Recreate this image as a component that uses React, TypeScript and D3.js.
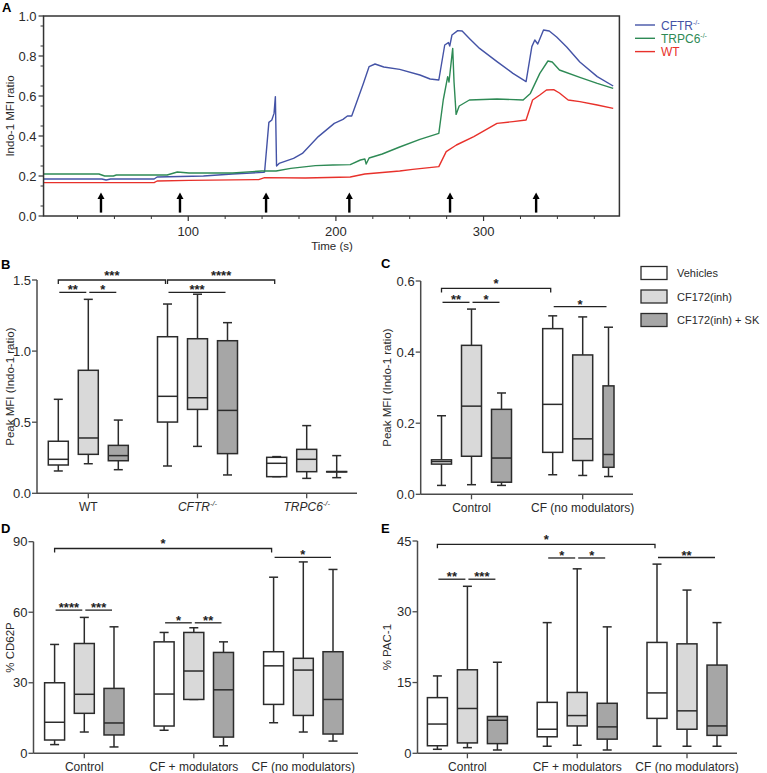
import React from 'react';
import * as d3 from 'd3';

const FONT = '"Liberation Sans", Arial, Helvetica, sans-serif';
const FILLS = ['#ffffff', '#d9d9d9', '#a6a6a6'];
const STROKE = '#2b2b2b';
const AXIS = '#4a4a4a';
const TXT = '#2a2a2a';

// ---------- Panel A data ----------
const cftrSeries: [number, number][] = [[2,.185],[41.5,.185],[44.4,.18],[47.4,.185],[76.9,.185],[78.9,.195],[110.3,.2],[130,.21],[150.7,.218],[151.7,.22],[154.6,.468],[156.6,.48],[158.1,.513],[159,.597],[159.8,.25],[161.5,.263],[171.3,.288],[177.3,.313],[188.1,.397],[198.9,.463],[204.8,.483],[207.8,.5],[210.7,.5],[218.6,.663],[222.5,.747],[226.5,.76],[232.4,.745],[243.2,.733],[256.9,.705],[263.8,.685],[269.7,.68],[273.7,.855],[276.2,.867],[277.1,.85],[278.6,.905],[282.5,.927],[285.5,.925],[290.4,.888],[297.3,.838],[309.1,.772],[319.9,.713],[328.8,.672],[332.7,.847],[334.7,.88],[336.7,.86],[340.6,.93],[344.5,.925],[349.5,.895],[356.3,.845],[365.2,.77],[377,.697],[387.8,.65]];
const trpc6Series: [number, number][] = [[2,.21],[39.5,.21],[43.4,.2],[49.3,.2],[51.3,.205],[85.7,.205],[92.6,.22],[100.5,.215],[130,.215],[149.7,.225],[159.5,.225],[169.4,.238],[186.1,.252],[197.9,.255],[209.7,.257],[216.6,.28],[219.6,.285],[220.5,.26],[222.5,.29],[231.4,.31],[243.2,.345],[256.9,.383],[269.7,.413],[272.7,.58],[275.7,.697],[276.6,.67],[279.1,.838],[280,.67],[281.4,.508],[283.5,.55],[290.4,.58],[309.1,.585],[326.8,.58],[331.7,.613],[338.1,.713],[343.6,.775],[346.5,.77],[351.4,.73],[365.2,.693],[377,.663],[387.8,.638]];
const wtSeries: [number, number][] = [[2,.167],[76.9,.167],[78.9,.175],[100.5,.178],[147.7,.182],[151.7,.192],[179.2,.19],[209.7,.195],[219.6,.21],[243.2,.225],[252,.233],[269.7,.247],[274.7,.322],[281.6,.355],[293.4,.397],[309.1,.463],[319.9,.472],[328.8,.48],[333.2,.58],[338.1,.605],[342.6,.63],[347.5,.632],[351.4,.615],[357.3,.58],[365.2,.572],[377,.555],[387.8,.538]];
const aSeriesNames = ['CFTR', 'TRPC6', 'WT'];
const aSeriesSup = ['-/-', '-/-', ''];
const aColors = ['#4453a6', '#2e8a55', '#e8312b'];
const arrowTimes = [40.9, 94.4, 152.7, 209.1, 277.3, 335.6];
const aYTicks = [0, 0.2, 0.4, 0.6, 0.8, 1.0];
const aXMajor = [100, 200, 300];

// ---------- Panel B data ([min, q1, median, q3, max]) ----------
const bCategories = ['WT', 'CFTR', 'TRPC6'];
const bSup = ['', '-/-', '-/-'];
const bItalic = [false, true, true];
const bVehicle = [[0.157,0.199,0.239,0.366,0.661],[0.192,0.501,0.682,1.101,1.331],[0.117,0.117,0.211,0.253,0.258]];
const bInhibitor = [[0.208,0.274,0.389,0.865,1.364],[0.33,0.59,0.672,1.087,1.4],[0.105,0.152,0.239,0.309,0.476]];
const bInhibitorSK = [[0.166,0.229,0.265,0.337,0.515],[0.129,0.279,0.583,1.073,1.2],[0.11,0.15,0.152,0.153,0.265]];
const bTicks = [0, 0.5, 1.0, 1.5];

// ---------- Panel C data ----------
const cCategories = ['Control', 'CF (no modulators)'];
const cVehicle = [[0.025,0.085,0.092,0.097,0.221],[0.055,0.118,0.253,0.466,0.502]];
const cInhibitor = [[0.027,0.107,0.248,0.419,0.521],[0.053,0.095,0.156,0.392,0.499]];
const cInhibitorSK = [[0.025,0.034,0.102,0.239,0.285],[0.05,0.076,0.112,0.305,0.47]];
const cTicks = [0, 0.2, 0.4, 0.6];
const legendLabels = ['Vehicles', 'CF172(inh)', 'CF172(inh) + SK'];

// ---------- Panel D data ----------
const deCategories = ['Control', 'CF + modulators', 'CF (no modulators)'];
const dVehicle = [[3.7,5.65,13.2,30,46.3],[9.8,11.6,25.2,47.4,51.4],[13,20.8,37.2,43.2,74.9]];
const dInhibitor = [[9.05,17,25.1,46.7,57.8],[22.9,22.9,35,51.4,53.4],[9.05,16.1,35.4,40.4,81.4]];
const dInhibitorSK = [[2.7,7.8,12.9,27.6,53.8],[3.2,6.9,27,42.9,47.4],[5.2,8.2,22.9,43.2,78.2]];
const dTicks = [0, 30, 60, 90];

// ---------- Panel E data ----------
const eVehicle = [[0.85,1.6,6.2,11.8,16.4],[1.5,3.5,5.1,10.8,27.7],[1.5,7.4,12.8,23.5,40.1]];
const eInhibitor = [[1.2,2.2,9.5,17.7,35.4],[1.7,5.8,8.0,12.9,39.1],[1.5,5.1,9.0,23.2,34.6]];
const eInhibitorSK = [[0.7,2.05,7.0,7.8,19.3],[0.7,3.0,5.6,10.6,26.8],[1.5,3.8,5.8,18.7,27.7]];
const eTicks = [0, 15, 30, 45];

type Sig = { a: [number, number]; b: [number, number]; level: number; label: string; bracket?: boolean };
const bSigs: Sig[] = [
  { a: [0, 0], b: [1, 0], level: 1.5, label: '***', bracket: true },
  { a: [1, 0], b: [2, 0], level: 1.5, label: '****', bracket: true },
  { a: [0, 0], b: [0, 1], level: 1.413, label: '**' },
  { a: [0, 1], b: [0, 2], level: 1.413, label: '*' },
  { a: [1, 0], b: [1, 2], level: 1.413, label: '***' },
];
const cSigs: Sig[] = [
  { a: [0, 0], b: [1, 0], level: 0.579, label: '*', bracket: true },
  { a: [0, 0], b: [0, 1], level: 0.54, label: '**' },
  { a: [0, 1], b: [0, 2], level: 0.54, label: '*' },
  { a: [1, 0], b: [1, 2], level: 0.528, label: '*' },
];
const dSigs: Sig[] = [
  { a: [0, 0], b: [2, 0], level: 87.1, label: '*', bracket: true },
  { a: [2, 0], b: [2, 2], level: 83.3, label: '*' },
  { a: [0, 0], b: [0, 1], level: 60.9, label: '****' },
  { a: [0, 1], b: [0, 2], level: 60.9, label: '***' },
  { a: [1, 0], b: [1, 1], level: 55.5, label: '*' },
  { a: [1, 1], b: [1, 2], level: 55.5, label: '**' },
];
const eSigs: Sig[] = [
  { a: [0, 0], b: [2, 0], level: 44.3, label: '*', bracket: true },
  { a: [2, 0], b: [2, 2], level: 41.5, label: '**' },
  { a: [1, 0], b: [1, 1], level: 41.4, label: '*' },
  { a: [1, 1], b: [1, 2], level: 41.4, label: '*' },
  { a: [0, 0], b: [0, 1], level: 36.9, label: '**' },
  { a: [0, 1], b: [0, 2], level: 36.9, label: '***' },
];

function PanelA() {
  const x = d3.scaleLinear().domain([2, 392]).range([43.55, 619.4]);
  const y = d3.scaleLinear().domain([0, 1]).range([216, 16]);
  const line = d3.line<[number, number]>().x(d => x(d[0])).y(d => y(d[1]));
  const series = [cftrSeries, trpc6Series, wtSeries];
  const minorX = d3.range(25, 392, 25).filter(t => !aXMajor.includes(t));
  const minorY = d3.range(0.05, 1, 0.1);
  return (
    <g fontFamily={FONT}>
      <text x={2} y={12} fontSize={13} fontWeight="bold" fill="#000">A</text>
      {series.map((s, i) => (
        <path key={i} d={line(s) || ''} fill="none" stroke={aColors[i]} strokeWidth={1.4} strokeLinejoin="round" />
      ))}
      {arrowTimes.map((t, i) => {
        const cx = x(t);
        return (
          <g key={i}>
            <line x1={cx} x2={cx} y1={y(0.017)} y2={y(0.09)} stroke="#000" strokeWidth={2.4} />
            <polygon points={`${cx - 3.5},${y(0.085)} ${cx + 3.5},${y(0.085)} ${cx},${y(0.118)}`} fill="#000" />
          </g>
        );
      })}
      <rect x={x(2)} y={y(1)} width={x(392) - x(2)} height={y(0) - y(1)} fill="none" stroke="#333" strokeWidth={1.5} />
      {aYTicks.map(t => (
        <g key={t}>
          <line x1={x(2) - 5} x2={x(2)} y1={y(t)} y2={y(t)} stroke="#333" strokeWidth={1.2} />
          <text x={x(2) - 7} y={y(t)} dy="0.35em" textAnchor="end" fontSize={13} fill={TXT}>{d3.format('.1f')(t)}</text>
        </g>
      ))}
      {minorY.map(t => (
        <line key={t} x1={x(2) - 3} x2={x(2)} y1={y(t)} y2={y(t)} stroke="#333" strokeWidth={1} />
      ))}
      {aXMajor.map(t => (
        <g key={t}>
          <line x1={x(t)} x2={x(t)} y1={y(0)} y2={y(0) + 5} stroke="#333" strokeWidth={1.2} />
          <text x={x(t)} y={y(0) + 20} textAnchor="middle" fontSize={13} fill={TXT}>{t}</text>
        </g>
      ))}
      {minorX.map(t => (
        <line key={t} x1={x(t)} x2={x(t)} y1={y(0)} y2={y(0) + 3} stroke="#333" strokeWidth={1} />
      ))}
      <text x={332} y={250} textAnchor="middle" fontSize={11.5} fill={TXT}>Time (s)</text>
      <text transform={`translate(14,${(y(0) + y(1)) / 2}) rotate(-90)`} textAnchor="middle" fontSize={11.5} fill={TXT}>Indo-1 MFI ratio</text>
      {aSeriesNames.map((n, i) => (
        <g key={n}>
          <line x1={635} x2={655} y1={25 + i * 13.3} y2={25 + i * 13.3} stroke={aColors[i]} strokeWidth={1.4} />
          <text x={661} y={25 + i * 13.3 + 4.5} fontSize={12} fill={aColors[i]}>
            {n}
            {aSeriesSup[i] && <tspan dy={-5} fontSize={7}>{aSeriesSup[i]}</tspan>}
          </text>
        </g>
      ))}
    </g>
  );
}

type BoxCfg = {
  letter: string;
  letterPos: [number, number];
  cats: string[];
  sup?: string[];
  italic?: boolean[];
  series: number[][][];
  yDomain: [number, number];
  yTicks: number[];
  yFmt: (n: number) => string;
  top: number;
  bottom: number;
  yAxisX: number;
  xEnd: number;
  catRange: [number, number];
  spread: number;
  sigs: Sig[];
  yLabel: string;
  yLabelX: number;
  special?: { g: number; s: number; dx: number; w: number };
};

function BoxPanel({ cfg }: { cfg: BoxCfg }) {
  const y = d3.scaleLinear().domain(cfg.yDomain).range([cfg.bottom, cfg.top]);
  const xc = d3.scalePoint<string>().domain(cfg.cats).range(cfg.catRange);
  const xs = d3.scalePoint<string>().domain(['0', '1', '2']).range([-cfg.spread, cfg.spread]);
  const isSpecial = (g: number, s: number) => !!cfg.special && cfg.special.g === g && cfg.special.s === s;
  const center = (g: number, s: number) =>
    (xc(cfg.cats[g]) as number) + (xs(String(s)) as number) + (isSpecial(g, s) ? cfg.special!.dx : 0);
  const bw = (g: number, s: number) => (isSpecial(g, s) ? cfg.special!.w : 20);
  const cap = 9;
  return (
    <g fontFamily={FONT}>
      <text x={cfg.letterPos[0]} y={cfg.letterPos[1]} fontSize={13} fontWeight="bold" fill="#000">{cfg.letter}</text>
      {cfg.series.map((ser, s) =>
        ser.map((d, g) => {
          const [mn, q1, md, q3, mx] = d;
          const cx = center(g, s);
          const w = bw(g, s);
          return (
            <g key={`${s}-${g}`} stroke={STROKE} strokeWidth={1.5}>
              <line x1={cx} x2={cx} y1={y(mx)} y2={y(q3)} />
              <line x1={cx} x2={cx} y1={y(q1)} y2={y(mn)} />
              <line x1={cx - cap / 2} x2={cx + cap / 2} y1={y(mx)} y2={y(mx)} />
              <line x1={cx - cap / 2} x2={cx + cap / 2} y1={y(mn)} y2={y(mn)} />
              <rect x={cx - w / 2} y={y(q3)} width={w} height={Math.max(0.01, y(q1) - y(q3))} fill={FILLS[s]} />
              <line x1={cx - w / 2} x2={cx + w / 2} y1={y(md)} y2={y(md)} />
            </g>
          );
        })
      )}
      {cfg.sigs.map((sg, i) => {
        const ly = y(sg.level);
        const x1 = sg.bracket ? center(sg.a[0], sg.a[1]) : center(sg.a[0], sg.a[1]) + 1;
        const x2 = center(sg.b[0], sg.b[1]) - 2;
        return (
          <g key={i}>
            {sg.bracket ? (
              <path d={`M${x1},${ly + 4}V${ly}H${x2}V${ly + 4}`} fill="none" stroke="#222" strokeWidth={1.3} />
            ) : (
              <line x1={x1} x2={x2} y1={ly} y2={ly} stroke="#222" strokeWidth={1.3} />
            )}
            <text x={(x1 + x2) / 2} y={sg.bracket ? ly - 0.5 : ly + 2} textAnchor="middle" fontSize={13} fontWeight="bold" fill="#222">{sg.label}</text>
          </g>
        );
      })}
      <line x1={cfg.yAxisX} x2={cfg.yAxisX} y1={cfg.top} y2={cfg.bottom} stroke={AXIS} strokeWidth={1.5} />
      <line x1={cfg.yAxisX} x2={cfg.xEnd} y1={cfg.bottom} y2={cfg.bottom} stroke={AXIS} strokeWidth={1.5} />
      {cfg.yTicks.map(t => (
        <g key={t}>
          <line x1={cfg.yAxisX - 5} x2={cfg.yAxisX} y1={y(t)} y2={y(t)} stroke={AXIS} strokeWidth={1.3} />
          <text x={cfg.yAxisX - 6} y={y(t)} dy="0.35em" textAnchor="end" fontSize={13} fill={TXT}>{cfg.yFmt(t)}</text>
        </g>
      ))}
      {cfg.cats.map((c, i) => (
        <g key={c}>
          <line x1={xc(c)} x2={xc(c)} y1={cfg.bottom} y2={cfg.bottom + 5} stroke={AXIS} strokeWidth={1.3} />
          <text x={xc(c)} y={cfg.bottom + 18} textAnchor="middle" fontSize={12} fill={TXT} fontStyle={cfg.italic && cfg.italic[i] ? 'italic' : 'normal'}>
            {c}
            {cfg.sup && cfg.sup[i] && <tspan dy={-5} fontSize={7.5}>{cfg.sup[i]}</tspan>}
          </text>
        </g>
      ))}
      <text transform={`translate(${cfg.yLabelX},${(cfg.top + cfg.bottom) / 2}) rotate(-90)`} textAnchor="middle" fontSize={11.5} fill={TXT}>{cfg.yLabel}</text>
    </g>
  );
}

function Legend() {
  return (
    <g fontFamily={FONT}>
      {legendLabels.map((l, i) => (
        <g key={l}>
          <rect x={641} y={266.5 + i * 23.5} width={26} height={13} fill={FILLS[i]} stroke={STROKE} strokeWidth={1.3} />
          <text x={677} y={273 + i * 23.5 + 4} fontSize={11} fill={TXT}>{l}</text>
        </g>
      ))}
    </g>
  );
}

const fmt1 = d3.format('.1f');
const fmt0 = d3.format('d');

const panelB: BoxCfg = {
  letter: 'B', letterPos: [1, 269], cats: bCategories, sup: bSup, italic: bItalic,
  series: [bVehicle, bInhibitor, bInhibitorSK], yDomain: [0, 1.5], yTicks: bTicks, yFmt: fmt1,
  top: 280, bottom: 493.3, yAxisX: 37, xEnd: 357, catRange: [88.3, 306.7], spread: 30,
  sigs: bSigs, yLabel: 'Peak MFI (Indo-1 ratio)', yLabelX: 14,
};
const panelC: BoxCfg = {
  letter: 'C', letterPos: [381, 268], cats: cCategories,
  series: [cVehicle, cInhibitor, cInhibitorSK], yDomain: [0, 0.6], yTicks: cTicks, yFmt: fmt1,
  top: 281, bottom: 494.3, yAxisX: 420.7, xEnd: 633, catRange: [471.5, 582.7], spread: 30,
  sigs: cSigs, yLabel: 'Peak MFI (Indo-1 ratio)', yLabelX: 391,
  special: { g: 1, s: 2, dx: -4.2, w: 11 },
};
const panelD: BoxCfg = {
  letter: 'D', letterPos: [1, 533], cats: deCategories,
  series: [dVehicle, dInhibitor, dInhibitorSK], yDomain: [0, 90], yTicks: dTicks, yFmt: fmt0,
  top: 541.7, bottom: 753.3, yAxisX: 33.5, xEnd: 358, catRange: [84.3, 303.3], spread: 29.7,
  sigs: dSigs, yLabel: '% CD62P', yLabelX: 14,
};
const panelE: BoxCfg = {
  letter: 'E', letterPos: [381, 533], cats: deCategories,
  series: [eVehicle, eInhibitor, eInhibitorSK], yDomain: [0, 45], yTicks: eTicks, yFmt: fmt0,
  top: 541, bottom: 753.3, yAxisX: 417.5, xEnd: 737, catRange: [467.4, 687], spread: 30,
  sigs: eSigs, yLabel: '% PAC-1', yLabelX: 391,
};

export default function App() {
  return (
    <div style={{ position: 'absolute', left: 0, top: 0 }}>
      <svg width={767} height={773} viewBox="0 0 767 773" style={{ display: 'block', background: '#fff' }}>
        <rect x={0} y={0} width={767} height={773} fill="#fff" />
        <PanelA />
        <BoxPanel cfg={panelB} />
        <BoxPanel cfg={panelC} />
        <Legend />
        <BoxPanel cfg={panelD} />
        <BoxPanel cfg={panelE} />
      </svg>
    </div>
  );
}
